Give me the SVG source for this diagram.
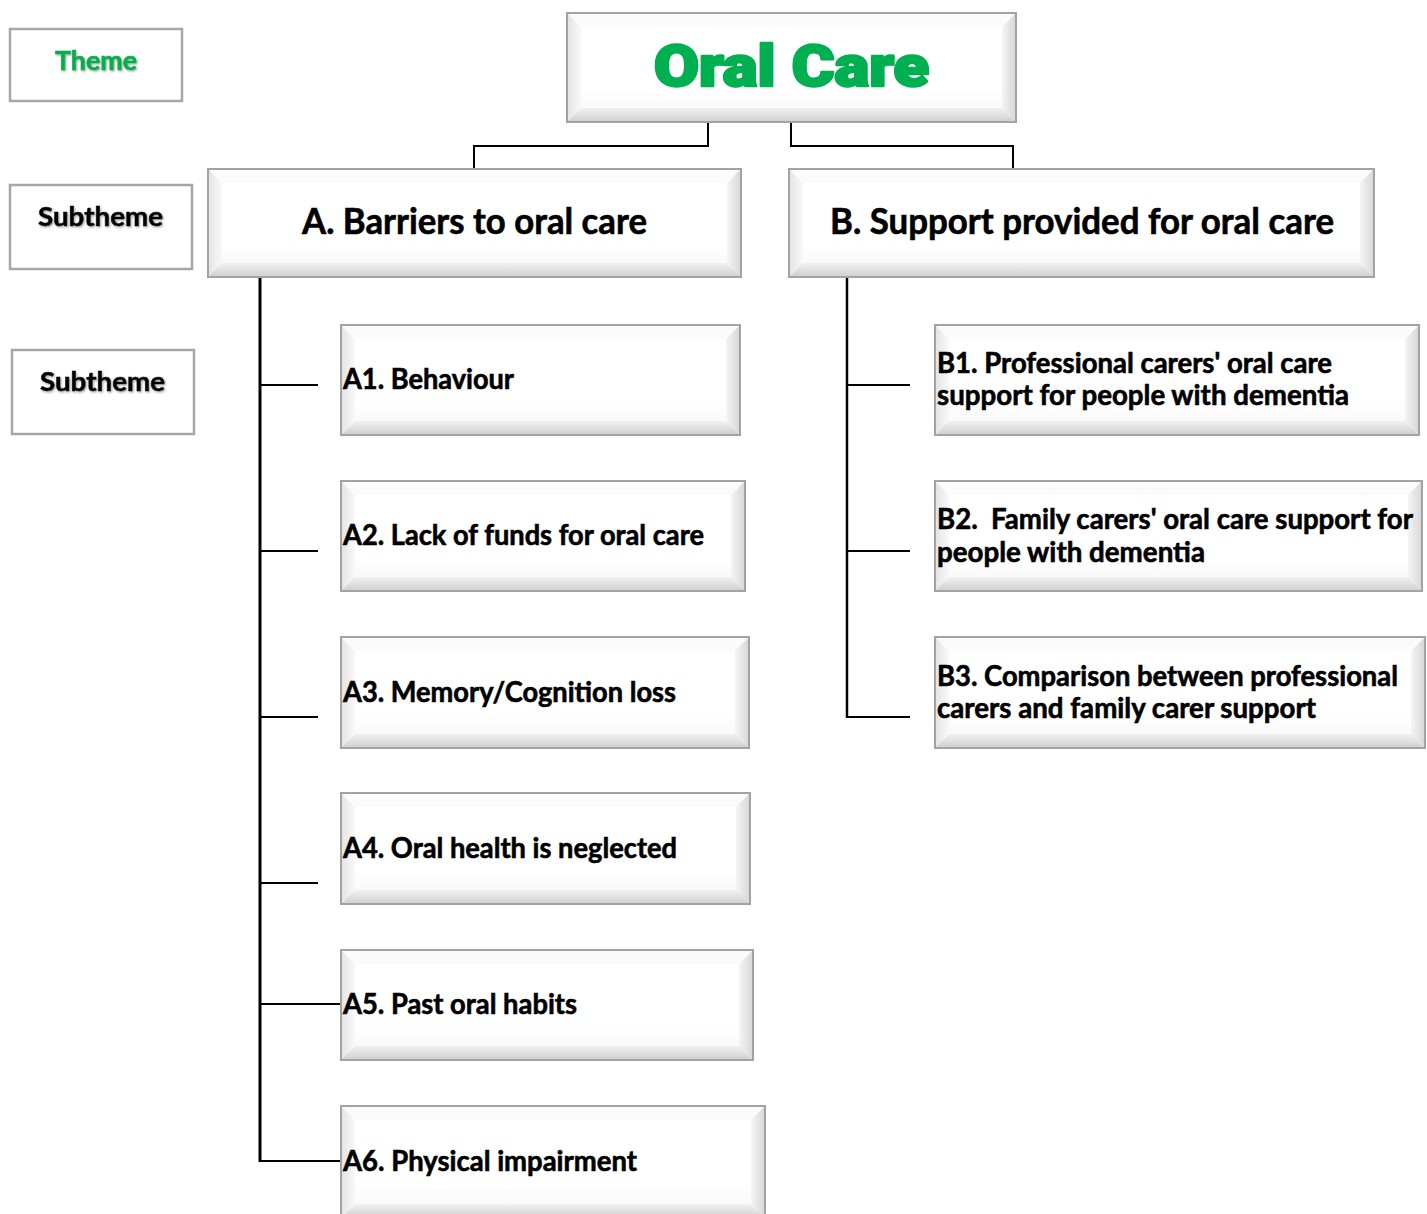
<svg xmlns="http://www.w3.org/2000/svg" width="1427" height="1214" viewBox="0 0 1427 1214">
<defs>
<linearGradient id="gL" x1="0" y1="0" x2="1" y2="0"><stop offset="0" stop-color="#e3e3e3"/><stop offset="1" stop-color="#f9f9f9"/></linearGradient>
<linearGradient id="gR" x1="0" y1="0" x2="1" y2="0"><stop offset="0" stop-color="#f5f5f5"/><stop offset="1" stop-color="#d6d6d6"/></linearGradient>
<linearGradient id="gB" x1="0" y1="0" x2="0" y2="1"><stop offset="0" stop-color="#f1f1f1"/><stop offset="1" stop-color="#cfcfcf"/></linearGradient>
<linearGradient id="gF" x1="0" y1="0" x2="0" y2="1"><stop offset="0" stop-color="#ffffff"/><stop offset="0.7" stop-color="#ffffff"/><stop offset="1" stop-color="#f5f5f5"/></linearGradient>
<filter id="sh" x="-10%" y="-20%" width="120%" height="150%"><feDropShadow dx="1" dy="1.2" stdDeviation="0.8" flood-color="#777" flood-opacity="0.7"/></filter>
</defs>
<style>
.face{fill:url(#gF)}
.bt{fill:#fbfbfb}
.bl{fill:url(#gL)}
.br{fill:url(#gR)}
.bb{fill:url(#gB)}
.frame{fill:none;stroke:#a3a3a3;stroke-width:2}
.leg{fill:#fff;stroke:#a6a6a6;stroke-width:2.5}
.t{font-family:Lato,"Open Sans","Liberation Sans",sans-serif;font-weight:bold;fill:#000;stroke:#000;stroke-width:0.6}
.sub{font-size:28px}
.ttl{font-size:36px;text-anchor:middle}
.lg{font-size:26px;text-anchor:middle;filter:url(#sh)}
.green{fill:#00b050;stroke:#00b050}
.conn line,.conn polyline{stroke:#000;fill:none;stroke-width:2}
</style>

<g class="conn" id="connectors">
<polyline points="708,122 708,146 474,146 474,169" stroke-width="2.5"/>
<polyline points="791,122 791,146 1013,146 1013,169" stroke-width="2.5"/>
<line x1="260" y1="277" x2="260" y2="1162" style="stroke-width:3"/>
<line x1="260" y1="385" x2="318" y2="385"/>
<line x1="260" y1="551" x2="318" y2="551"/>
<line x1="260" y1="717" x2="318" y2="717"/>
<line x1="260" y1="883" x2="318" y2="883"/>
<line x1="260" y1="1004" x2="341" y2="1004"/>
<polyline points="260,1161 341,1161"/>
<line x1="847" y1="277" x2="847" y2="718" style="stroke-width:2.5"/>
<line x1="847" y1="385" x2="910" y2="385"/>
<line x1="847" y1="551" x2="910" y2="551"/>
<line x1="846" y1="717" x2="910" y2="717"/>
</g>

<g id="legend-theme">
<rect class="leg" x="10" y="29" width="172" height="72"/>
<text class="t lg green" x="96" y="70" textLength="82" lengthAdjust="spacingAndGlyphs">Theme</text>
</g>
<g id="legend-subtheme-1">
<rect class="leg" x="10" y="185" width="182" height="84"/>
<text class="t lg" x="100.5" y="226" textLength="125" lengthAdjust="spacingAndGlyphs">Subtheme</text>
</g>
<g id="legend-subtheme-2">
<rect class="leg" x="12" y="350" width="182" height="84"/>
<text class="t lg" x="102.5" y="391" textLength="125" lengthAdjust="spacingAndGlyphs">Subtheme</text>
</g>

<g id="node-oral-care">
<rect class="face" x="567" y="13" width="449" height="109"/>
<polygon class="bt" points="567,13 1016,13 1002,27 581,27"/>
<polygon class="bl" points="567,13 581,27 581,108 567,122"/>
<polygon class="br" points="1016,13 1016,122 1002,108 1002,27"/>
<polygon class="bb" points="567,122 581,108 1002,108 1016,122"/>
<rect class="frame" x="567" y="13" width="449" height="109"/>
<text x="791.5" y="86" font-family="Roboto,'Liberation Sans',sans-serif" font-weight="900" font-size="57" text-anchor="middle" fill="#00b050" stroke="#00b050" stroke-width="2.6" stroke-linejoin="round" textLength="275" lengthAdjust="spacingAndGlyphs">Oral Care</text>
</g>

<g id="node-A">
<rect class="face" x="208" y="169" width="533" height="108"/>
<polygon class="bt" points="208,169 741,169 727,183 222,183"/>
<polygon class="bl" points="208,169 222,183 222,263 208,277"/>
<polygon class="br" points="741,169 741,277 727,263 727,183"/>
<polygon class="bb" points="208,277 222,263 727,263 741,277"/>
<rect class="frame" x="208" y="169" width="533" height="108"/>
<text class="t ttl" x="474.5" y="234" textLength="345" lengthAdjust="spacingAndGlyphs">A. Barriers to oral care</text>
</g>

<g id="node-B">
<rect class="face" x="789" y="169" width="585" height="108"/>
<polygon class="bt" points="789,169 1374,169 1360,183 803,183"/>
<polygon class="bl" points="789,169 803,183 803,263 789,277"/>
<polygon class="br" points="1374,169 1374,277 1360,263 1360,183"/>
<polygon class="bb" points="789,277 803,263 1360,263 1374,277"/>
<rect class="frame" x="789" y="169" width="585" height="108"/>
<text class="t ttl" x="1082" y="234" textLength="504" lengthAdjust="spacingAndGlyphs">B. Support provided for oral care</text>
</g>

<g id="node-A1">
<rect class="face" x="341" y="325" width="399" height="110"/>
<polygon class="bt" points="341,325 740,325 726,339 355,339"/>
<polygon class="bl" points="341,325 355,339 355,421 341,435"/>
<polygon class="br" points="740,325 740,435 726,421 726,339"/>
<polygon class="bb" points="341,435 355,421 726,421 740,435"/>
<rect class="frame" x="341" y="325" width="399" height="110"/>
<text class="t sub" x="343" y="389" textLength="171" lengthAdjust="spacingAndGlyphs">A1. Behaviour</text>
</g>

<g id="node-A2">
<rect class="face" x="341" y="481" width="404" height="110"/>
<polygon class="bt" points="341,481 745,481 731,495 355,495"/>
<polygon class="bl" points="341,481 355,495 355,577 341,591"/>
<polygon class="br" points="745,481 745,591 731,577 731,495"/>
<polygon class="bb" points="341,591 355,577 731,577 745,591"/>
<rect class="frame" x="341" y="481" width="404" height="110"/>
<text class="t sub" x="343" y="545" textLength="361" lengthAdjust="spacingAndGlyphs">A2. Lack of funds for oral care</text>
</g>

<g id="node-A3">
<rect class="face" x="341" y="637" width="408" height="111"/>
<polygon class="bt" points="341,637 749,637 735,651 355,651"/>
<polygon class="bl" points="341,637 355,651 355,734 341,748"/>
<polygon class="br" points="749,637 749,748 735,734 735,651"/>
<polygon class="bb" points="341,748 355,734 735,734 749,748"/>
<rect class="frame" x="341" y="637" width="408" height="111"/>
<text class="t sub" x="343" y="702" textLength="333" lengthAdjust="spacingAndGlyphs">A3. Memory/Cognition loss</text>
</g>

<g id="node-A4">
<rect class="face" x="341" y="793" width="409" height="111"/>
<polygon class="bt" points="341,793 750,793 736,807 355,807"/>
<polygon class="bl" points="341,793 355,807 355,890 341,904"/>
<polygon class="br" points="750,793 750,904 736,890 736,807"/>
<polygon class="bb" points="341,904 355,890 736,890 750,904"/>
<rect class="frame" x="341" y="793" width="409" height="111"/>
<text class="t sub" x="343" y="858" textLength="334" lengthAdjust="spacingAndGlyphs">A4. Oral health is neglected</text>
</g>

<g id="node-A5">
<rect class="face" x="341" y="950" width="412" height="110"/>
<polygon class="bt" points="341,950 753,950 739,964 355,964"/>
<polygon class="bl" points="341,950 355,964 355,1046 341,1060"/>
<polygon class="br" points="753,950 753,1060 739,1046 739,964"/>
<polygon class="bb" points="341,1060 355,1046 739,1046 753,1060"/>
<rect class="frame" x="341" y="950" width="412" height="110"/>
<text class="t sub" x="343" y="1014" textLength="234" lengthAdjust="spacingAndGlyphs">A5. Past oral habits</text>
</g>

<g id="node-A6">
<rect class="face" x="341" y="1106" width="424" height="112"/>
<polygon class="bt" points="341,1106 765,1106 751,1120 355,1120"/>
<polygon class="bl" points="341,1106 355,1120 355,1204 341,1218"/>
<polygon class="br" points="765,1106 765,1218 751,1204 751,1120"/>
<polygon class="bb" points="341,1218 355,1204 751,1204 765,1218"/>
<rect class="frame" x="341" y="1106" width="424" height="112"/>
<text class="t sub" x="343" y="1171" textLength="294" lengthAdjust="spacingAndGlyphs">A6. Physical impairment</text>
</g>

<g id="node-B1">
<rect class="face" x="935" y="325" width="484" height="110"/>
<polygon class="bt" points="935,325 1419,325 1405,339 949,339"/>
<polygon class="bl" points="935,325 949,339 949,421 935,435"/>
<polygon class="br" points="1419,325 1419,435 1405,421 1405,339"/>
<polygon class="bb" points="935,435 949,421 1405,421 1419,435"/>
<rect class="frame" x="935" y="325" width="484" height="110"/>
<text class="t sub" x="937" y="373" textLength="395" lengthAdjust="spacingAndGlyphs">B1. Professional carers' oral care</text>
<text class="t sub" x="937" y="405" textLength="412" lengthAdjust="spacingAndGlyphs">support for people with dementia</text>
</g>

<g id="node-B2">
<rect class="face" x="935" y="481" width="487" height="110"/>
<polygon class="bt" points="935,481 1422,481 1408,495 949,495"/>
<polygon class="bl" points="935,481 949,495 949,577 935,591"/>
<polygon class="br" points="1422,481 1422,591 1408,577 1408,495"/>
<polygon class="bb" points="935,591 949,577 1408,577 1422,591"/>
<rect class="frame" x="935" y="481" width="487" height="110"/>
<text class="t sub" x="937" y="529" textLength="476" lengthAdjust="spacingAndGlyphs" xml:space="preserve">B2.  Family carers' oral care support for</text>
<text class="t sub" x="937" y="562" textLength="268" lengthAdjust="spacingAndGlyphs">people with dementia</text>
</g>

<g id="node-B3">
<rect class="face" x="935" y="637" width="490" height="111"/>
<polygon class="bt" points="935,637 1425,637 1411,651 949,651"/>
<polygon class="bl" points="935,637 949,651 949,734 935,748"/>
<polygon class="br" points="1425,637 1425,748 1411,734 1411,651"/>
<polygon class="bb" points="935,748 949,734 1411,734 1425,748"/>
<rect class="frame" x="935" y="637" width="490" height="111"/>
<text class="t sub" x="937" y="686" textLength="461" lengthAdjust="spacingAndGlyphs">B3. Comparison between professional</text>
<text class="t sub" x="937" y="718" textLength="379" lengthAdjust="spacingAndGlyphs">carers and family carer support</text>
</g>
</svg>
